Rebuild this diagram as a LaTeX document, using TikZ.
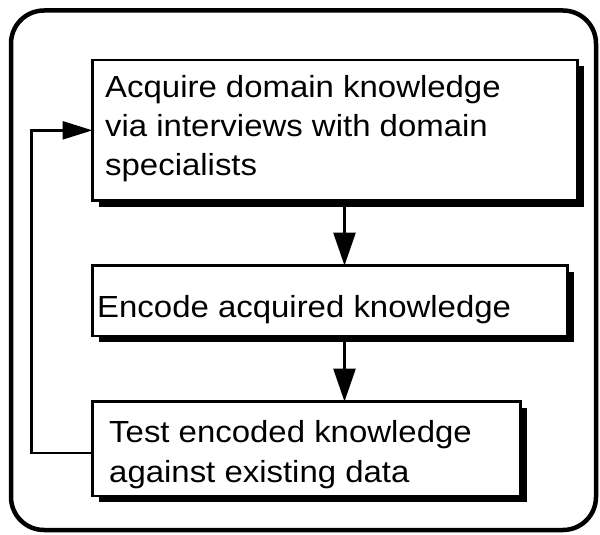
\documentclass[tikz,border=0pt]{standalone}
\usepackage{fontspec}
\setmainfont{Liberation Sans}[FakeStretch=1.08]
\usetikzlibrary{arrows.meta,shadows}
\begin{document}
\begin{tikzpicture}[x=1pt,y=-1pt,
  frame/.style={draw, line width=4.5pt, rounded corners=33pt,
    minimum width=585pt, minimum height=519.5pt, inner sep=0pt, outer sep=0pt},
  stepbox/.style={draw, line width=2.5pt, fill=white, anchor=north west,
    inner sep=0pt, outer sep=0pt,
    drop shadow={shadow xshift=6pt, shadow yshift=-6pt, fill=black, opacity=1}},
  boxtext/.style={anchor=base west, inner sep=0pt, align=left,
    font=\fontsize{30.5pt}{39.3pt}\selectfont},
  flow/.style={line width=2.6pt, -{Triangle[length=33pt,width=22pt]}},
  back/.style={line width=2.6pt, -{Triangle[length=30pt,width=18pt]}}
]
% page
\path[fill=white, use as bounding box] (0,0) rectangle (600,535);

% outer rounded frame
\node[frame] (frame) at (303.5,270.25) {};

% process steps
\node[stepbox, minimum width=485pt, minimum height=140.7pt] (box1) at (92.5,60) {};
\node[stepbox, minimum width=475pt, minimum height=70.4pt] (box2) at (92.5,265.6) {};
\node[stepbox, minimum width=428pt, minimum height=94.4pt] (box3) at (92.5,401.6) {};

% step texts (anchored on the baseline of their last line)
\node[boxtext] (t1) at (105,175.7) {Acquire domain knowledge\\via interviews with domain\\specialists};
\node[boxtext] (t2) at (97,317.5) {Encode acquired knowledge};
\node[boxtext] (t3) at (109,482) {Test encoded knowledge\\against existing data};

% connectors
\coordinate (ax) at (344.5,0);
\coordinate (fb) at (31.5,0);
\draw[flow] (box1.south -| ax) -- (box2.north -| ax);
\draw[flow] (box2.south -| ax) -- (box3.north -| ax);
\draw[back] ([yshift=-4pt]box3.west) -| (fb |- box1.west) -- (box1.west);
\end{tikzpicture}
\end{document}
